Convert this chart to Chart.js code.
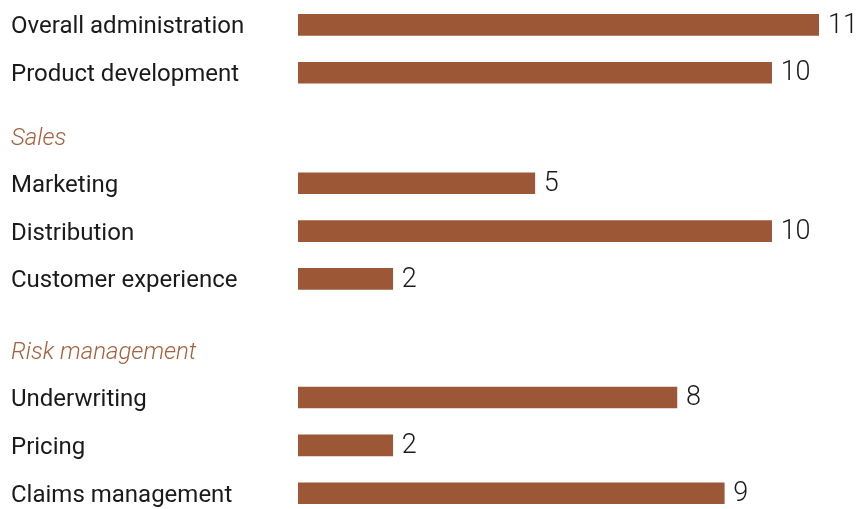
<!DOCTYPE html>
<html><head><meta charset="utf-8">
<script src="https://cdn.jsdelivr.net/npm/chart.js@4"></script>
<style>html,body{margin:0;padding:0;background:#fff}#wrap{width:858px;height:509px}</style>
</head><body><div id="wrap"><canvas id="c"></canvas></div>
<script>
const categories = ["Overall administration","Product development","Marketing","Distribution","Customer experience","Underwriting","Pricing","Claims management"];
const values = [11,10,5,10,2,8,2,9];
const groups = ["","","Sales","Sales","Sales","Risk management","Risk management","Risk management"];
const headerGapBefore = [1.33, 1.5];
const headerGapAfter = 0.98;

// build row positions
const rows = []; // {pos, label, header}
const barPos = [];
let pos = 0, prevGroup = "", hi = 0;
categories.forEach((c,i)=>{
  if (groups[i] && groups[i] !== prevGroup) {
    pos += headerGapBefore[hi++] ;
    rows.push({pos, label: groups[i], header: true});
    pos += headerGapAfter;
  } else if (i>0) pos += 1;
  rows.push({pos, label: c, header: false});
  barPos.push(pos);
  prevGroup = groups[i];
});
const lastPos = pos;

const BAR = '#9c5736';
const HEAD = '#a5613f';
const FONT = 'Roboto, "Liberation Sans", sans-serif';

const valueLabels = {
  id:'valueLabels',
  afterDatasetsDraw(chart){
    const ctx = chart.ctx;
    const meta = chart.getDatasetMeta(0);
    ctx.save();
    ctx.font = '300 27px ' + FONT;
    ctx.fillStyle = '#1a1a1a';
    ctx.textBaseline = 'middle';
    ctx.textAlign = 'left';
    meta.data.forEach((el,i)=>{
      ctx.fillText(String(values[i]), el.x + 9, el.y + 1);
    });
    ctx.restore();
  }
};

new Chart(document.getElementById('c'), {
  type:'bar',
  data:{
    datasets:[{
      data: values.map((v,i)=>({x:v, y:barPos[i]})),
      backgroundColor: BAR,
      barThickness: 21,
      borderWidth: 0
    }]
  },
  options:{
    indexAxis:'y',
    responsive:true,
    maintainAspectRatio:false,
    animation:false,
    layout:{padding:{left:11,right:39,top:0,bottom:0}},
    plugins:{legend:{display:false},tooltip:{enabled:false}},
    scales:{
      x:{type:'linear',min:0,max:11,display:false,grid:{display:false}},
      y:{
        type:'linear', reverse:true, offset:false, min:-0.52, max:lastPos+0.33,
        grid:{display:false,drawTicks:false}, border:{display:false},
        afterBuildTicks(scale){ scale.ticks = rows.map(r=>({value:r.pos})); },
        afterFit(scale){ scale.width = 287; scale.paddingTop = 0; scale.paddingBottom = 0; },
        ticks:{
          autoSkip:false, crossAlign:'far', padding:0, labelOffset:2.5,
          callback(v){ const r = rows.find(r=>Math.abs(r.pos-v)<1e-6); return r?r.label:''; },
          font(ctx){ const r = rows[ctx.index]; return r && r.header ? {family:FONT,size:24,style:'italic',weight:'300'} : {family:FONT,size:24,weight:'normal'}; },
          color(ctx){ const r = rows[ctx.index]; return r && r.header ? HEAD : '#1a1a1a'; }
        }
      }
    }
  },
  plugins:[valueLabels]
});
</script></body></html>
